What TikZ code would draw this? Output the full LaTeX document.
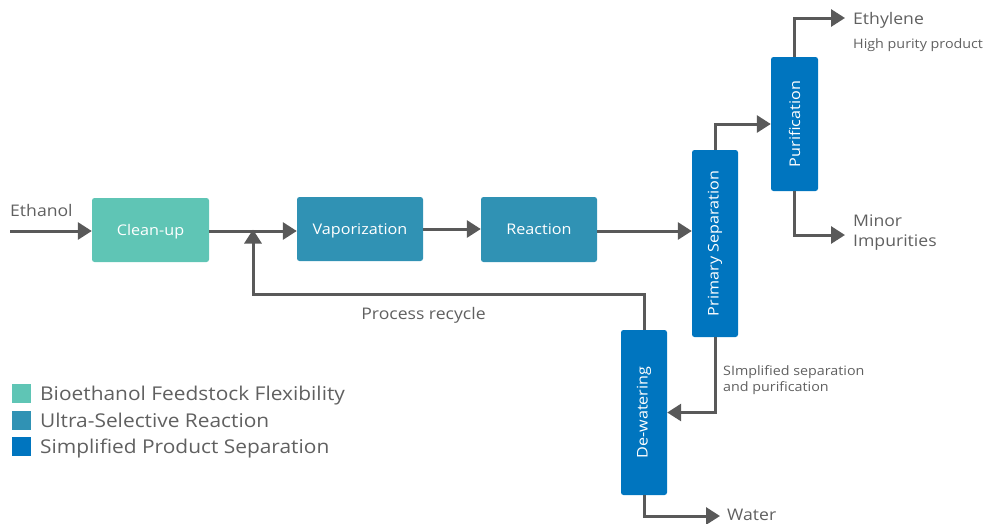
\documentclass[tikz,border=0pt]{standalone}
\usepackage{fontspec}
\setmainfont[FakeStretch=1.1]{Open Sans}
\usetikzlibrary{arrows.meta}
\definecolor{cteal}{HTML}{5FC5B5}
\definecolor{cmid}{HTML}{3092B4}
\definecolor{cblue}{HTML}{0075BF}
\definecolor{cgray}{HTML}{595959}
\definecolor{ctext}{HTML}{606060}
\begin{document}
\begin{tikzpicture}[x=1pt,y=-1pt,
  box/.style={rectangle, rounded corners=2.5pt, inner sep=0pt, text=white, font=\fontsize{14.7}{17}\selectfont},
  hbox/.style={box, text height=10.5pt, text depth=0pt},
  arr/.style={draw=cgray, line width=3pt, -{Triangle[length=14pt,width=17pt]}},
  lbl/.style={text=ctext, inner sep=0pt, anchor=base west, font=\fontsize{16}{20}\selectfont},
  small/.style={text=ctext, inner sep=0pt, anchor=base west, font=\fontsize{13}{16}\selectfont},
  leg/.style={text=ctext, inner sep=0pt, anchor=base west, font=\fontsize{19}{22}\selectfont}
]
\useasboundingbox (0,0) rectangle (984,523);
% boxes
\node[hbox, fill=cteal, minimum width=117pt, minimum height=64pt] (clean) at (150.5,230) {Clean-up};
\node[hbox, fill=cmid, minimum width=126pt, minimum height=64pt] (vap) at (360,229) {Vaporization};
\node[hbox, fill=cmid, minimum width=116pt, minimum height=65pt] (react) at (539,229.5) {Reaction};
\node[box, fill=cblue, minimum width=46pt, minimum height=187pt] (ps) at (715,243.5) {\rotatebox{90}{Primary Separation}};
\node[box, fill=cblue, minimum width=47pt, minimum height=134pt] (pur) at (794.5,124) {\rotatebox{90}{Purification}};
\node[box, fill=cblue, minimum width=46pt, minimum height=165pt] (dew) at (644,412.5) {\rotatebox{90}{De-watering}};
% labels
\node[lbl] (ethanol) at (10,216.5) {Ethanol};
\node[lbl] (ethylene) at (853,24.5) {Ethylene};
\node[small] (hpp) at (853,48) {High purity product};
\node[lbl] (minor) at (853,226.5) {Minor};
\node[lbl] (impur) at (853,246.5) {Impurities};
\node[lbl] (water) at (727,520) {Water};
\node[lbl, anchor=base] (recyc) at (423.5,319.5) {Process recycle};
\node[small] (simp1) at (723,375.5) {SImplified separation};
\node[small] (simp2) at (723,391.5) {and purification};
% coordinates
\coordinate (ein) at (10,231);
\coordinate (eout) at (845,18);
\coordinate (mout) at (845,235);
\coordinate (wout) at (720,516);
\coordinate (rc) at (253,294);
% connectors
\draw[arr] (ein) -- (ein -| clean.west);
\draw[arr] (clean.east |- ein) -- (ein -| vap.west);
\draw[arr] (vap.east) -- (vap.east -| react.west);
\draw[arr] (react.east |- ein) -- (ein -| ps.west);
\draw[arr] (ps.north) |- (pur.west);
\draw[arr] (pur.north) |- (eout);
\draw[arr] (pur.south) |- (mout);
\draw[arr] (ps.south) |- (dew.east);
\draw[arr] (dew.north) |- (rc) -- ([yshift=1.5pt]rc |- ein);
\draw[arr] (dew.south) |- (wout);
% legend
\node[fill=cteal, minimum size=19pt, inner sep=0pt] (l1) at (21.5,393) {};
\node[fill=cmid, minimum size=19pt, inner sep=0pt] (l2) at (21.5,420) {};
\node[fill=cblue, minimum size=19pt, inner sep=0pt] (l3) at (21.5,446) {};
\node[leg] (t1) at (40,400.5) {Bioethanol Feedstock Flexibility};
\node[leg] (t2) at (40,427) {Ultra-Selective Reaction};
\node[leg] (t3) at (40,453.5) {Simplified Product Separation};
\end{tikzpicture}
\end{document}
